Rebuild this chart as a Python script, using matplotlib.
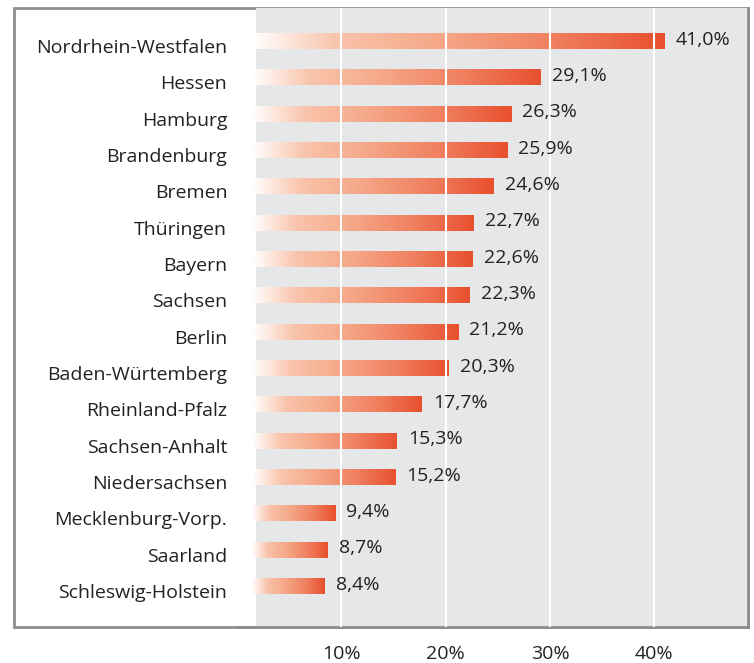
import numpy as np
import matplotlib
matplotlib.use("Agg")
import matplotlib.pyplot as plt
import matplotlib.transforms as mtransforms
from matplotlib.colors import LinearSegmentedColormap
from matplotlib.patches import Rectangle

categories = ["Nordrhein-Westfalen", "Hessen", "Hamburg", "Brandenburg", "Bremen",
              "Thüringen", "Bayern", "Sachsen", "Berlin", "Baden-Würtemberg",
              "Rheinland-Pfalz", "Sachsen-Anhalt", "Niedersachsen",
              "Mecklenburg-Vorp.", "Saarland", "Schleswig-Holstein"]
values = [41.0, 29.1, 26.3, 25.9, 24.6, 22.7, 22.6, 22.3, 21.2, 20.3,
          17.7, 15.3, 15.2, 9.4, 8.7, 8.4]
value_labels = ["41,0%", "29,1%", "26,3%", "25,9%", "24,6%", "22,7%", "22,6%",
                "22,3%", "21,2%", "20,3%", "17,7%", "15,3%", "15,2%", "9,4%",
                "8,7%", "8,4%"]
xticks = [10, 20, 30, 40]
xtick_labels = ["10%", "20%", "30%", "40%"]

plt.rcParams['font.family'] = ['Open Sans', 'DejaVu Sans']

W, H = 754, 663
fig = plt.figure(figsize=(W / 100, H / 100), dpi=100)

# outer frame
fig.patches.append(Rectangle((14 / W, 1 - 627 / H), (748 - 14) / W, (627 - 8) / H,
                             transform=fig.transFigure, facecolor="white",
                             edgecolor="#8e8e8e", linewidth=2, zorder=-5))

ax = fig.add_axes([237 / W, 1 - 627 / H, (748 - 237) / W, (627 - 8) / H])
ax.set_zorder(2)
ax.set_facecolor("none")
ppu = 10.43
xmax = (748 - 237) / ppu
n = len(categories)
bar_start = (252 - 237) / ppu

# gray panel
ax.axvspan((256 - 237) / ppu, xmax, color="#e6e7e9", zorder=0, lw=0)
for t in xticks:
    ax.axvline(t, color="white", lw=1.5, zorder=3)

cmap = LinearSegmentedColormap.from_list(
    "g", [(0.0, "#ffffff"), (0.1, "#fde2d6"), (0.2, "#f9c4ac"), (0.45, "#f5a888"),
          (0.73, "#f08060"), (1.0, "#e8502f")])
grad = np.linspace(0, 1, 256).reshape(1, -1)
h = 0.44
for i, (v, lab) in enumerate(zip(values, value_labels)):
    ax.imshow(grad, cmap=cmap, aspect="auto",
              extent=[bar_start, v, i + h / 2, i - h / 2],
              zorder=2, interpolation="bilinear")
    ax.annotate(lab, (v, i), xytext=(8, 1), textcoords="offset points",
                va="center", ha="left", fontsize=14, color="#222222")
ax.set_xlim(0, xmax)
ax.set_ylim(n - 1 + 1.13, -0.91)

ax.set_yticks(range(n))
ax.set_yticklabels(categories, fontsize=14, color="#222222")
ax.set_xticks(xticks)
ax.set_xticklabels(xtick_labels, fontsize=14, color="#222222")
ax.tick_params(axis="y", length=0, pad=7)
ax.tick_params(axis="x", length=0, pad=13)
shift = mtransforms.ScaledTranslation(0, -5 / 100, fig.dpi_scale_trans)
for lbl in ax.get_yticklabels():
    lbl.set_transform(lbl.get_transform() + shift)
for s in ["left", "top"]:
    ax.spines[s].set_visible(False)
for s in ["right", "bottom"]:
    ax.spines[s].set_color("#8e8e8e")
    ax.spines[s].set_linewidth(2)

fig.savefig("out.png", dpi=100)
